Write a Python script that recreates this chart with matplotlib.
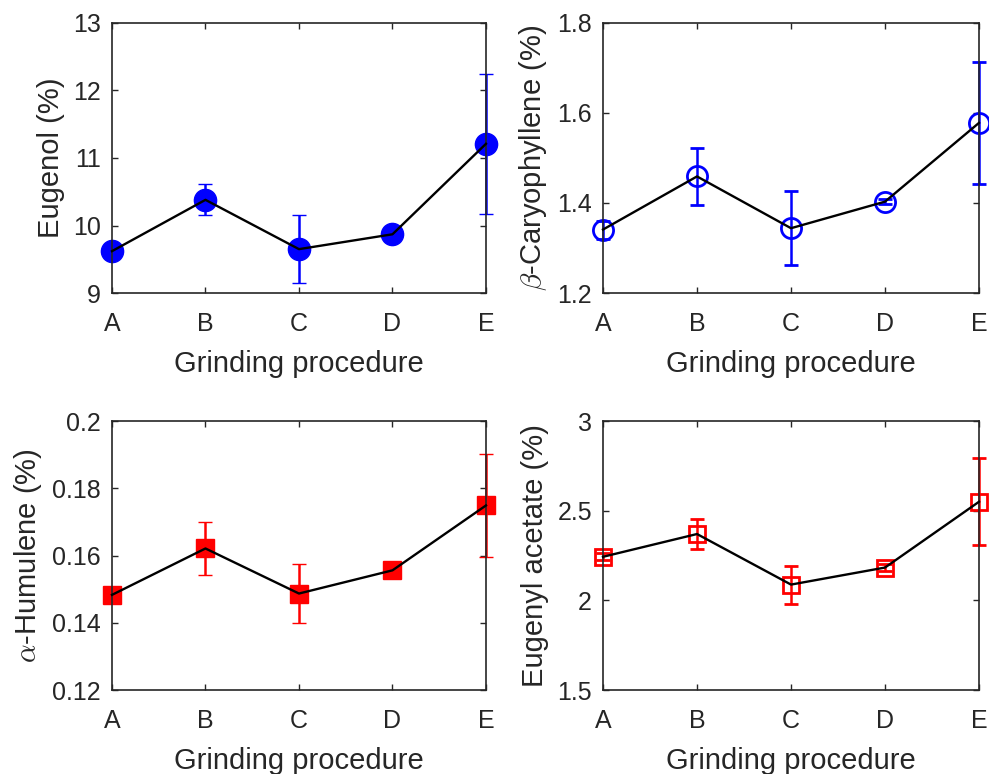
import numpy as np
import matplotlib
matplotlib.use("Agg")
import matplotlib.pyplot as plt
from matplotlib.ticker import FormatStrFormatter

plt.rcParams["font.family"] = ["Liberation Sans", "DejaVu Sans"]
plt.rcParams["mathtext.fontset"] = "cm"

# Data
procedures = ["A", "B", "C", "D", "E"]

eugenol = [9.62, 10.38, 9.65, 9.87, 11.21]
eugenol_err = [0.05, 0.23, 0.50, 0.05, 1.04]

caryophyllene = [1.341, 1.459, 1.344, 1.403, 1.578]
caryophyllene_err = [0.020, 0.064, 0.082, 0.006, 0.136]

humulene = [0.1483, 0.1621, 0.1487, 0.1556, 0.1749]
humulene_err = [0.0008, 0.0079, 0.0088, 0.0005, 0.0153]

acetate = [2.243, 2.370, 2.088, 2.183, 2.550]
acetate_err = [0.020, 0.084, 0.106, 0.020, 0.242]

panels = [
    (eugenol, eugenol_err, "Eugenol (%)", (9, 13), [9, 10, 11, 12, 13], "blue", "o", True, 16),
    (caryophyllene, caryophyllene_err, r"$\beta$-Caryophyllene (%)", (1.2, 1.8), [1.2, 1.4, 1.6, 1.8], "blue", "o", False, 14.5),
    (humulene, humulene_err, r"$\alpha$-Humulene (%)", (0.12, 0.2), [0.12, 0.14, 0.16, 0.18, 0.2], "red", "s", True, 12.5),
    (acetate, acetate_err, "Eugenyl acetate (%)", (1.5, 3), [1.5, 2, 2.5, 3], "red", "s", False, 11.5),
]

positions = [
    [0.1132, 0.6214, 0.3782, 0.3490],
    [0.6097, 0.6214, 0.3802, 0.3490],
    [0.1132, 0.1085, 0.3782, 0.3475],
    [0.6097, 0.1085, 0.3802, 0.3475],
]

fig = plt.figure(figsize=(9.89, 7.74), dpi=100)

x = np.arange(len(procedures))
for pos, (vals, errs, label, ylim, yticks, color, marker, filled, ms) in zip(positions, panels):
    ax = fig.add_axes(pos)
    ax.errorbar(x, vals, yerr=errs, fmt=marker, color=color, ms=ms,
                mfc=color if filled else "none", mec=color, mew=2 if not filled else 1,
                elinewidth=1.8, capsize=5, capthick=1.8, zorder=2, clip_on=False)
    ax.plot(x, vals, color="black", lw=1.7, zorder=3, clip_on=False)
    ax.set_xlim(0, len(procedures) - 1)
    ax.set_ylim(*ylim)
    ax.set_xticks(x)
    ax.set_xticklabels(procedures)
    ax.set_yticks(yticks)
    ax.yaxis.set_major_formatter(FormatStrFormatter("%g"))
    ax.tick_params(direction="in", top=True, right=True, length=4, width=1,
                   labelsize=18, colors="#262626")
    ax.tick_params(axis="x", pad=14)
    ax.tick_params(axis="y", pad=8)
    for sp in ax.spines.values():
        sp.set_linewidth(1.2)
        sp.set_color("#262626")
    ax.set_xlabel("Grinding procedure", fontsize=21, color="#262626", labelpad=10)
    ax.set_ylabel(label, fontsize=21, color="#262626", labelpad=6)

fig.savefig("out.png", dpi=100)
